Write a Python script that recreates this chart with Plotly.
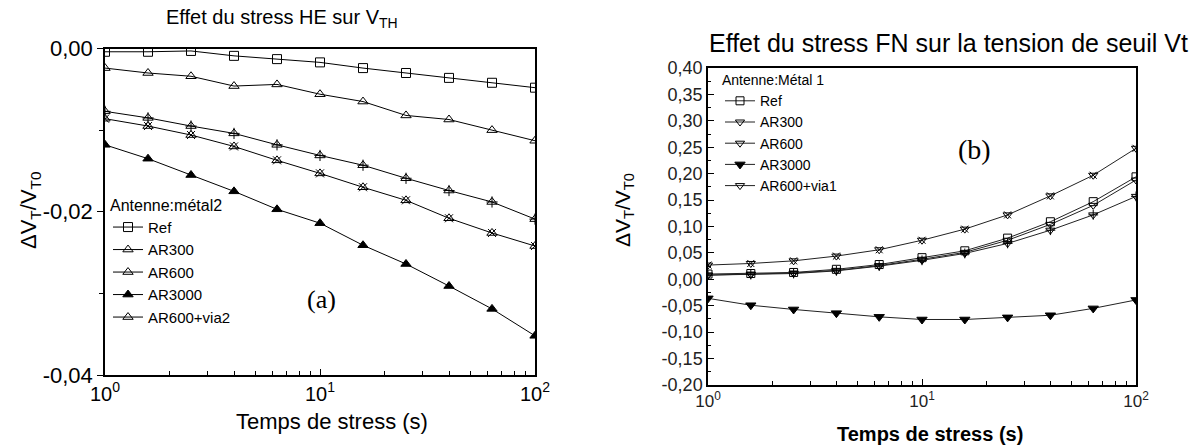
import plotly.graph_objects as go

# ---------------- data ----------------
t = [1, 1.585, 2.512, 3.981, 6.310, 10, 15.85, 25.12, 39.81, 63.10, 100]

# panel (a) : HE stress
ref_a = [-0.0004, -0.0004, -0.0003, -0.0009, -0.0013, -0.0017, -0.0024, -0.0030, -0.0036, -0.0042, -0.0048]
ar300_a = [-0.0024, -0.0030, -0.0034, -0.0046, -0.0044, -0.0056, -0.0065, -0.0082, -0.0087, -0.0100, -0.0113]
ar600_a = [-0.0077, -0.0085, -0.0095, -0.0104, -0.0118, -0.0131, -0.0143, -0.0159, -0.0174, -0.0188, -0.0209]
ar3000_a = [-0.0118, -0.0135, -0.0155, -0.0175, -0.0197, -0.0214, -0.0241, -0.0264, -0.0291, -0.0319, -0.0352]
via2_a = [-0.0086, -0.0095, -0.0106, -0.0120, -0.0137, -0.0153, -0.0170, -0.0186, -0.0208, -0.0226, -0.0242]

# panel (b) : FN stress
ref_b = [0.010, 0.011, 0.013, 0.019, 0.028, 0.041, 0.054, 0.078, 0.109, 0.147, 0.194]
ar300_b = [0.008, 0.010, 0.012, 0.017, 0.026, 0.038, 0.051, 0.074, 0.104, 0.140, 0.188]
ar600_b = [0.008, 0.009, 0.011, 0.016, 0.025, 0.036, 0.049, 0.068, 0.093, 0.122, 0.157]
ar3000_b = [-0.036, -0.049, -0.057, -0.064, -0.071, -0.076, -0.076, -0.072, -0.068, -0.055, -0.039]
via1_b = [0.027, 0.030, 0.035, 0.044, 0.056, 0.074, 0.095, 0.122, 0.158, 0.197, 0.248]

x_tickvals = [1, 10, 100]
x_ticktext = ["10<sup>0</sup>", "10<sup>1</sup>", "10<sup>2</sup>"]
x_minor = [2, 3, 4, 5, 6, 7, 8, 9, 20, 30, 40, 50, 60, 70, 80, 90]

ya_tickvals = [0, -0.02, -0.04]
ya_ticktext = ["0,00", "-0,02", "-0,04"]
ya_minor = [-0.01, -0.03]

yb_tickvals = [0.40, 0.35, 0.30, 0.25, 0.20, 0.15, 0.10, 0.05, 0.00, -0.05, -0.10, -0.15, -0.20]
yb_ticktext = ["0,40", "0,35", "0,30", "0,25", "0,20", "0,15", "0,10", "0,05", "0,00",
               "-0,05", "-0,10", "-0,15", "-0,20"]
yb_minor = [0.375, 0.325, 0.275, 0.225, 0.175, 0.125, 0.075, 0.025, -0.025, -0.075, -0.125, -0.175]

# ---------------- figure ----------------
W, H = 1204, 447
FONT = "Liberation Sans, Arial, sans-serif"
SERIF = "Liberation Serif, Times New Roman, serif"
fig = go.Figure()


def add(x, y, name, symbol, xa, ya, legend, size=9, color="black", overlay=None, osize=None):
    fig.add_trace(go.Scatter(
        x=x, y=y, name=name, mode="lines+markers", xaxis=xa, yaxis=ya, legend=legend,
        line=dict(color=color, width=1),
        marker=dict(symbol=symbol, size=size, color="black",
                    line=dict(color="black", width=1)),
    ))
    if overlay:
        fig.add_trace(go.Scatter(
            x=x, y=y, mode="markers", xaxis=xa, yaxis=ya, showlegend=False,
            marker=dict(symbol=overlay, size=osize or size - 2, color="black",
                        line=dict(color="black", width=1)),
            hoverinfo="skip",
        ))


# panel (a)
add(t, ref_a, "Ref", "square-open", "x", "y", "legend")
add(t, ar300_a, "AR300", "triangle-up-open", "x", "y", "legend")
add(t, ar600_a, "AR600", "triangle-up-open", "x", "y", "legend", overlay="cross-thin-open", osize=8)
add(t, ar3000_a, "AR3000", "triangle-up", "x", "y", "legend")
add(t, via2_a, "AR600+via2", "triangle-up-open", "x", "y", "legend", overlay="x-thin-open", osize=8)

# panel (b)
add(t, ref_b, "Ref", "square-open", "x2", "y2", "legend2", size=8, color="#222")
add(t, ar300_b, "AR300", "triangle-down-open", "x2", "y2", "legend2", size=8, color="#222")
add(t, ar600_b, "AR600", "triangle-down-open", "x2", "y2", "legend2", size=8, color="#222",
    overlay="cross-thin-open", osize=7)
add(t, ar3000_b, "AR3000", "triangle-down", "x2", "y2", "legend2", size=9, color="#222")
add(t, via1_b, "AR600+via1", "triangle-down-open", "x2", "y2", "legend2", size=8, color="#222",
    overlay="x-thin-open", osize=7)


def px(x):
    return x / W


def py(y):
    return (H - y) / H


axis_common = dict(showline=True, linecolor="black", linewidth=1.5, mirror=True,
                   showgrid=False, zeroline=False, ticklen=6, tickcolor="black", tickwidth=1,
                   automargin=False)


def ann(text, x, y, size, angle=0, family=FONT):
    return dict(text=text, x=px(x), y=py(y), xref="paper", yref="paper", showarrow=False,
                xanchor="center", yanchor="middle", textangle=angle,
                font=dict(size=size, family=family, color="black"))


fig.update_layout(
    width=W, height=H,
    margin=dict(l=0, r=0, t=0, b=0, pad=0, autoexpand=False),
    paper_bgcolor="white", plot_bgcolor="white",
    font=dict(family=FONT, color="black"),
    showlegend=True,
    xaxis=dict(domain=[px(105), px(535)], anchor="y", type="log", range=[0, 2],
               tickvals=x_tickvals, ticktext=x_ticktext, ticks="inside",
               tickfont=dict(size=20),
               minor=dict(tickvals=x_minor, ticks="inside", ticklen=4, tickcolor="black"),
               **axis_common),
    yaxis=dict(domain=[py(375), py(48.5)], anchor="x", range=[-0.04, 0],
               tickvals=ya_tickvals, ticktext=ya_ticktext, ticks="outside",
               tickfont=dict(size=22),
               minor=dict(tickvals=ya_minor, ticks="outside", ticklen=4, tickcolor="black"),
               **axis_common),
    xaxis2=dict(domain=[px(708), px(1136)], anchor="y2", type="log", range=[0, 2],
                tickvals=x_tickvals, ticktext=x_ticktext, ticks="inside",
                tickfont=dict(size=17, color="#222"),
                minor=dict(tickvals=x_minor, ticks="inside", ticklen=4, tickcolor="black"),
                **axis_common),
    yaxis2=dict(domain=[py(385), py(68)], anchor="x2", range=[-0.20, 0.40],
                tickvals=yb_tickvals, ticktext=yb_ticktext, ticks="inside",
                tickfont=dict(size=18, color="#222"),
                minor=dict(tickvals=yb_minor, ticks="inside", ticklen=3, tickcolor="black"),
                **axis_common),
    legend=dict(x=px(108), y=py(190), xanchor="left", yanchor="top",
                bgcolor="rgba(0,0,0,0)", borderwidth=0,
                font=dict(size=15, family=FONT),
                title=dict(text="Antenne:métal2", font=dict(size=16, family=FONT)),
                tracegroupgap=0, itemwidth=30),
    legend2=dict(x=px(720), y=py(67), xanchor="left", yanchor="top",
                 bgcolor="rgba(0,0,0,0)", borderwidth=0,
                 font=dict(size=14, family=FONT),
                 title=dict(text="Antenne:Métal 1", font=dict(size=14, family=FONT)),
                 tracegroupgap=0, itemwidth=30),
    annotations=[
        ann("Effet du stress HE sur V<sub>TH</sub>", 282, 18, 20),
        ann("Effet du stress FN sur la tension de seuil Vt", 948, 43, 25),
        ann("ΔV<sub>T</sub>/V<sub>T0</sub>", 30, 210, 22, -90),
        ann("ΔV<sub>T</sub>/V<sub>T0</sub>", 624, 210, 21, -90),
        ann("Temps de stress (s)", 332, 421, 22),
        ann("<b>Temps de stress (s)</b>", 930, 434, 20),
        ann("(a)", 322, 300, 26, family=SERIF),
        ann("(b)", 975, 150, 28, family=SERIF),
    ],
)

fig.write_html(
    "out.html",
    config={"displayModeBar": False},
    post_script="document.body.style.margin='0px';document.body.style.overflow='hidden';",
)
